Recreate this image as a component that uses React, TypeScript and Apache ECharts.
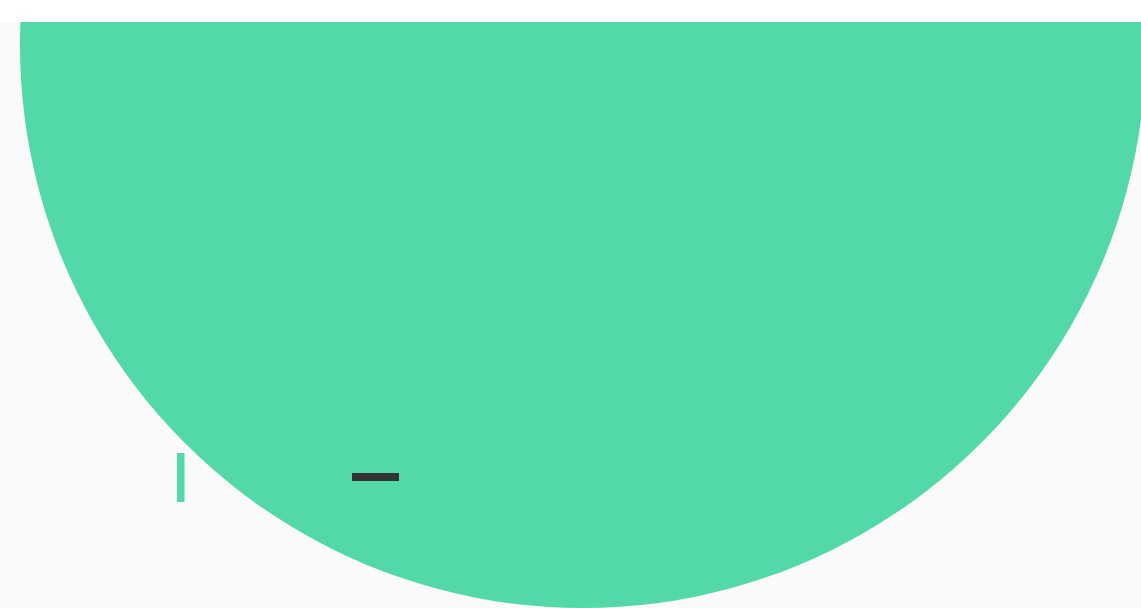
import React, { useEffect, useRef } from "react";
import * as echarts from "echarts";

const categories = ["A"];
const values = [1];
const GREEN = "#53d8a8";

export default function App() {
  const ref = useRef<HTMLDivElement>(null);
  useEffect(() => {
    if (!ref.current) return;
    const chart = echarts.init(ref.current, null, { renderer: "svg" });
    chart.setOption({
      animation: false,
      backgroundColor: "#fafafa",
      tooltip: { show: false },
      series: [
        {
          type: "pie",
          silent: true,
          center: [583, 23],
          radius: [0, 563],
          label: { show: false },
          labelLine: { show: false },
          itemStyle: { color: GREEN },
          data: categories.map((c, i) => ({ name: c, value: values[i] })),
        },
      ],
      graphic: [
        { type: "rect", left: 177, top: 431, shape: { width: 7.5, height: 49 }, style: { fill: GREEN }, z: 100 },
        { type: "rect", left: 352, top: 451, shape: { width: 47, height: 8 }, style: { fill: "#333333" }, z: 100 },
      ],
    });
    return () => chart.dispose();
  }, []);
  return (
    <div
      ref={ref}
      style={{ position: "absolute", left: 0, top: 22, width: 1141, height: 586 }}
    />
  );
}
